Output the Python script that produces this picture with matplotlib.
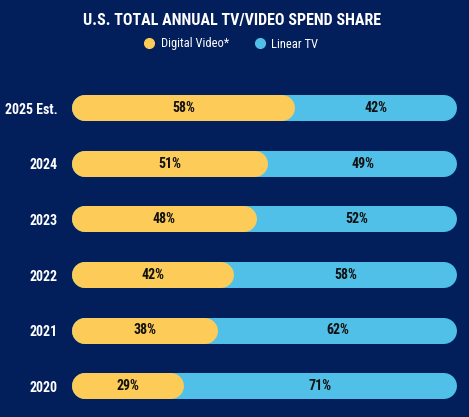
import matplotlib.pyplot as plt
from matplotlib import font_manager as fm
from matplotlib.lines import Line2D

years = ['2025 Est.', '2024', '2023', '2022', '2021', '2020']
digital = [58, 51, 48, 42, 38, 29]
linear = [42, 49, 52, 58, 62, 71]
series = ['Digital Video*', 'Linear TV']
title = 'U.S. TOTAL ANNUAL TV/VIDEO SPEND SHARE'

BG = '#021e5b'
YELLOW = '#fdcb57'
BLUE = '#50c0e8'

# the original uses a condensed face; take the narrowest one installed
fonts = fm.fontManager.ttflist
names = {f.name for f in fonts}
narrow = None
for cand in ['Roboto Condensed', 'Liberation Sans Narrow', 'Noto Sans Condensed',
             'Open Sans Condensed', 'DejaVu Sans Condensed']:
    if cand in names:
        narrow = cand
        break
stretch = 'normal'
if narrow is None:
    for f in fonts:
        if 'condensed' in str(f.stretch) and f.name in ('Noto Sans', 'Open Sans', 'DejaVu Sans', 'Roboto'):
            narrow, stretch = f.name, 'condensed'
            break
if narrow is None:
    narrow = 'Roboto'
plt.rcParams['font.family'] = [narrow, 'DejaVu Sans']
plt.rcParams['font.stretch'] = stretch
scale = 1.0 if (stretch == 'condensed' or narrow != 'Roboto') else 0.88

W, H, DPI = 469, 417, 100
fig = plt.figure(figsize=(W / DPI, H / DPI), dpi=DPI, facecolor=BG)

# axes spans exactly the bar area
ax_left, ax_w = 72, 385
ax = fig.add_axes([ax_left / W, 3 / H, ax_w / W, 334 / H])
ax.set_facecolor(BG)
ax.set_xlim(0, 100)
ax.set_ylim(len(years) - 0.5, -0.5)
ax.axis('off')

# rounded bars = thick lines with round caps, ends pulled in by the cap radius
bar_px = 26
lw = bar_px * 72 / DPI
r = (bar_px / 2) * 100 / ax_w


def rounded_bar(y, x0, x1, color):
    ax.plot([x0 + r, x1 - r], [y, y], color=color, lw=lw,
            solid_capstyle='round', zorder=2)


lab_kw = dict(ha='center', va='center', fontsize=10 * scale, fontweight='bold',
              color='#111111', zorder=3)
for i, (year, d, l) in enumerate(zip(years, digital, linear)):
    rounded_bar(i, 0, d + l, BLUE)
    rounded_bar(i, 0, d, YELLOW)
    ax.text(d / 2, i, f'{d}%', **lab_kw)
    ax.text(d + l / 2, i, f'{l}%', **lab_kw)
    ax.text(-3.7, i + 0.03, year, ha='right', va='center', fontsize=10 * scale,
            fontweight='bold', color='white', clip_on=False)

fig.text(232 / W, 1 - 20 / H, title, ha='center', va='center',
         fontsize=11.5 * scale, fontweight='bold', color='white')

handles = [Line2D([], [], ls='', marker='o', ms=7, color=c, mec=c)
           for c in (YELLOW, BLUE)]
fig.legend(handles, series, loc='center', bbox_to_anchor=(230 / W, 1 - 44 / H),
           ncol=2, frameon=False, labelcolor='white', fontsize=9 * scale,
           handletextpad=0.3, columnspacing=1.9, handlelength=1.2)

fig.savefig('out.png', dpi=DPI, facecolor=BG)
